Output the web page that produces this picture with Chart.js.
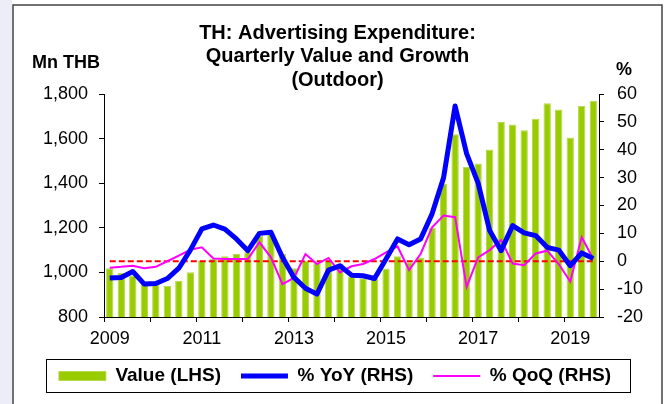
<!DOCTYPE html>
<html>
<head>
<meta charset="utf-8">
<script src="https://cdn.jsdelivr.net/npm/chart.js@4"></script>
<style>
  html, body { margin: 0; padding: 0; background: #fff; }
</style>
</head>
<body>
<canvas id="myChart" width="670" height="404"></canvas>
<script>
// quarterly data, 2009Q1 - 2019Q3
const quarters = [
  '2009Q1','2009Q2','2009Q3','2009Q4','2010Q1','2010Q2','2010Q3','2010Q4',
  '2011Q1','2011Q2','2011Q3','2011Q4','2012Q1','2012Q2','2012Q3','2012Q4',
  '2013Q1','2013Q2','2013Q3','2013Q4','2014Q1','2014Q2','2014Q3','2014Q4',
  '2015Q1','2015Q2','2015Q3','2015Q4','2016Q1','2016Q2','2016Q3','2016Q4',
  '2017Q1','2017Q2','2017Q3','2017Q4','2018Q1','2018Q2','2018Q3','2018Q4',
  '2019Q1','2019Q2','2019Q3'
];
const valueLHS = [1019, 998, 985, 954, 947, 940, 962, 1001, 1052, 1061, 1072, 1082, 1090, 1165, 1178, 1082,
  1019, 1052, 1045, 1052, 1040, 980, 974, 970, 1017, 1072, 1045, 1067, 1200, 1398, 1620, 1473,
  1488, 1551, 1674, 1663, 1638, 1689, 1758, 1731, 1605, 1746, 1770];
const yoyRHS = [-6, -5.8, -3.7, -8.2, -8, -6.2, -2.5, 4, 11.6, 13, 11.5, 8, 3.8, 10, 10.4, 1.4,
  -5.8, -9.7, -11.8, -3.2, -1.6, -5, -5.2, -6.2, 0.8, 8, 5.9, 8, 17, 30, 55.7, 38.6,
  28, 11, 3.8, 12.8, 10.2, 9.2, 5, 4, -1.6, 3, 1];
const qoqRHS = [-2.3, -2, -1.6, -2.5, -2, 0, 2, 4.1, 5, 1, 0.8, 0.8, 0.8, 6.8, 1.4, -8.2,
  -6, 2.6, -1, 1.2, -4, -1.8, -1, 0.8, 3.2, 5.3, -3.2, 2.6, 12.2, 16.4, 15.8, -9.2,
  1.4, 4, 7.6, -0.8, -1.4, 2.8, 3.8, -1, -7.3, 8.6, 0.8];
const zeroRHS = quarters.map(() => 0);
const yearLabels = ['2009', '2011', '2013', '2015', '2017', '2019'];
const titleLines = ['TH: Advertising Expenditure:', 'Quarterly Value and Growth', '(Outdoor)'];

const FONT = '"Liberation Sans", Arial, sans-serif';
const LEGEND_PAD = 20;
const LEGEND_SIZE = 19;

const frame = {
  id: 'frame',
  beforeDraw(chart) {
    const c = chart.ctx;
    c.save();
    c.fillStyle = '#fff';
    c.fillRect(0, 0, chart.width, chart.height);
    c.fillStyle = '#ededf7';
    c.fillRect(0, 0, 12, chart.height);
    c.strokeStyle = '#444';
    c.lineWidth = 1.5;
    c.beginPath();
    c.moveTo(13, chart.height + 2);
    c.lineTo(13, 5);
    c.lineTo(662, 5);
    c.lineTo(662, chart.height + 2);
    c.stroke();
    c.restore();
  },
  afterLayout(chart) {
    // pull the legend up so it sits in its box
    const lg = chart.legend;
    const h = lg.height;
    lg.top = 376 - LEGEND_PAD - LEGEND_SIZE / 2;
    lg.bottom = lg.top + h;
  },
  afterDraw(chart) {
    const c = chart.ctx;
    c.save();
    c.fillStyle = '#000';
    c.textAlign = 'center';
    c.textBaseline = 'middle';
    c.font = 'bold 20px ' + FONT;
    titleLines.forEach((t, i) => c.fillText(t, 337.5, 33 + i * 23.5));
    c.font = 'bold 18px ' + FONT;
    c.fillText('Mn THB', 66, 63);
    c.fillText('%', 624, 70);
    c.strokeStyle = '#000';
    c.lineWidth = 1;
    c.strokeRect(46.5, 359.5, 584, 33);
    c.restore();
  }
};

const tickFont = { size: 18, family: FONT };

var ctx = document.getElementById('myChart').getContext('2d');
var myChart = new Chart(ctx, {
  type: 'bar',
  data: {
    labels: quarters,
    datasets: [
      {
        type: 'bar', label: 'Value (LHS)', data: valueLHS, yAxisID: 'y',
        backgroundColor: '#99cc00', borderColor: '#b5d94f', borderWidth: 1,
        barPercentage: 0.64, categoryPercentage: 1, order: 4
      },
      {
        type: 'line', label: '% YoY (RHS)', data: yoyRHS, yAxisID: 'y1',
        borderColor: '#0000ff', borderWidth: 5, pointRadius: 0, order: 1,
        borderJoinStyle: 'round'
      },
      {
        type: 'line', label: '% QoQ (RHS)', data: qoqRHS, yAxisID: 'y1',
        borderColor: '#ff00ff', borderWidth: 2, pointRadius: 0, order: 2
      },
      {
        type: 'line', label: 'zero', data: zeroRHS, yAxisID: 'y1',
        borderColor: '#ff0000', borderWidth: 2, borderDash: [6, 3], pointRadius: 0, order: 3
      }
    ]
  },
  options: {
    responsive: false,
    animation: false,
    layout: { padding: { top: 94, left: 0, right: 0, bottom: 0 } },
    plugins: {
      tooltip: { enabled: false },
      legend: {
        position: 'bottom',
        labels: {
          usePointStyle: true,
          pointStyleWidth: 47,
          boxHeight: 9,
          padding: LEGEND_PAD,
          color: '#000',
          font: { size: LEGEND_SIZE, weight: 'bold', family: FONT },
          generateLabels: chart => Chart.defaults.plugins.legend.labels.generateLabels(chart)
            .filter(it => it.datasetIndex < 3)
            .sort((a, b) => a.datasetIndex - b.datasetIndex)
            .map(it => { it.pointStyle = it.datasetIndex === 0 ? 'rect' : 'line'; return it; })
        }
      }
    },
    scales: {
      x: {
        offset: true,
        grid: {
          offset: true, drawOnChartArea: false, tickLength: 5,
          color: c => (c.index % 4 === 0 ? '#000' : 'rgba(0,0,0,0)')
        },
        border: { color: '#000' },
        ticks: {
          autoSkip: false, maxRotation: 0, padding: 6, color: '#000', font: tickFont,
          callback: (v, i) => {
            const q = quarters[i];
            const yr = q.slice(0, 4);
            return q.endsWith('Q1') && yearLabels.includes(yr) ? yr : '';
          }
        },
        afterFit: s => { s.height = 38; }
      },
      y: {
        position: 'left', min: 800, max: 1800,
        grid: { drawOnChartArea: false, tickLength: 5, color: '#000' },
        border: { color: '#000' },
        ticks: { stepSize: 200, padding: 11, color: '#000', font: tickFont,
          callback: v => v.toLocaleString('en-US') },
        afterFit: s => { s.width = 104; }
      },
      y1: {
        position: 'right', min: -20, max: 60,
        grid: { drawOnChartArea: false, tickLength: 5, color: '#000' },
        border: { color: '#000' },
        ticks: { stepSize: 10, padding: 13, color: '#000', font: tickFont },
        afterFit: s => { s.width = 71; }
      }
    }
  },
  plugins: [frame]
});
</script>
</body>
</html>
